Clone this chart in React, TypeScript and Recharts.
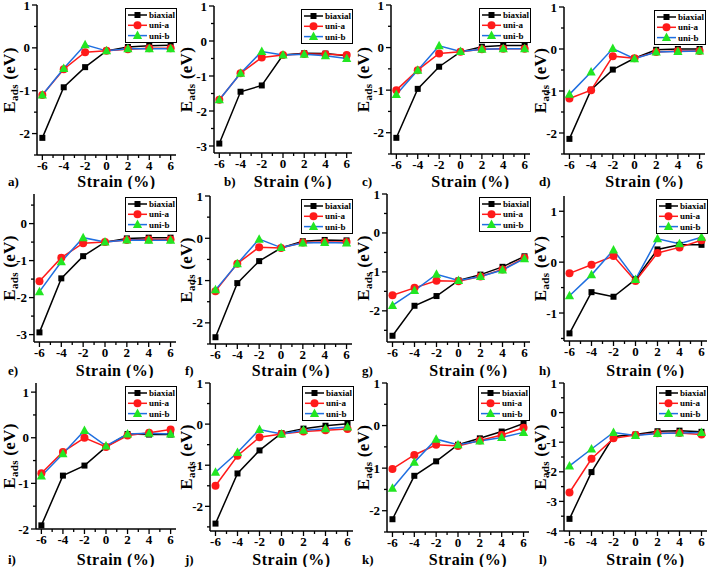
import React from 'react';
import { LineChart, Line, XAxis, YAxis, Legend } from 'recharts';

const strain = [-6, -4, -2, 0, 2, 4, 6];
const strainTicks = [-6, -5, -4, -3, -2, -1, 0, 1, 2, 3, 4, 5, 6];
const seriesNames = ['biaxial', 'uni-a', 'uni-b'];

// values, in order -6 .. 6 % strain
const aBiaxial = [-2.1, -0.92, -0.45, -0.07, 0.02, 0.05, 0.06];
const aUniA = [-1.1, -0.5, -0.1, -0.07, -0.03, -0.01, -0.01];
const aUniB = [-1.1, -0.48, 0.07, -0.07, -0.02, -0.02, -0.02];

const bBiaxial = [-2.93, -1.45, -1.27, -0.4, -0.35, -0.36, -0.42];
const bUniA = [-1.68, -0.92, -0.47, -0.4, -0.37, -0.38, -0.4];
const bUniB = [-1.68, -0.92, -0.3, -0.4, -0.38, -0.42, -0.5];

const cBiaxial = [-2.12, -0.97, -0.45, -0.1, 0.02, 0.05, 0.05];
const cUniA = [-1.0, -0.53, -0.14, -0.1, -0.04, -0.03, -0.03];
const cUniB = [-1.1, -0.53, 0.04, -0.09, -0.04, -0.03, -0.03];

const dBiaxial = [-2.14, -0.97, -0.49, -0.22, -0.02, 0.0, 0.0];
const dUniA = [-1.18, -0.98, -0.17, -0.22, -0.07, -0.05, -0.05];
const dUniB = [-1.08, -0.55, 0.01, -0.23, -0.07, -0.06, -0.05];

const eBiaxial = [-2.94, -1.48, -0.88, -0.5, -0.4, -0.38, -0.38];
const eUniA = [-1.56, -0.92, -0.53, -0.5, -0.44, -0.43, -0.43];
const eUniB = [-1.84, -1.03, -0.38, -0.5, -0.44, -0.45, -0.45];

const fBiaxial = [-2.34, -1.06, -0.54, -0.23, -0.07, -0.04, -0.05];
const fUniA = [-1.25, -0.6, -0.21, -0.23, -0.1, -0.09, -0.09];
const fUniB = [-1.22, -0.6, -0.02, -0.22, -0.11, -0.1, -0.11];

const gBiaxial = [-2.64, -1.87, -1.62, -1.22, -1.07, -0.87, -0.6];
const gUniA = [-1.6, -1.41, -1.23, -1.24, -1.12, -0.94, -0.64];
const gUniB = [-1.86, -1.48, -1.06, -1.22, -1.12, -0.95, -0.66];

const hBiaxial = [-1.4, -0.59, -0.68, -0.34, 0.25, 0.34, 0.34];
const hUniA = [-0.22, -0.05, 0.12, -0.37, 0.18, 0.29, 0.43];
const hUniB = [-0.66, -0.25, 0.24, -0.34, 0.46, 0.36, 0.49];

const iBiaxial = [-1.92, -0.83, -0.61, -0.2, 0.08, 0.07, 0.07];
const iUniA = [-0.78, -0.31, 0.0, -0.2, 0.05, 0.11, 0.18];
const iUniB = [-0.84, -0.35, 0.16, -0.18, 0.08, 0.1, 0.08];

const jBiaxial = [-2.42, -1.2, -0.64, -0.22, -0.11, -0.04, 0.01];
const jUniA = [-1.5, -0.77, -0.32, -0.24, -0.18, -0.15, -0.12];
const jUniB = [-1.17, -0.69, -0.13, -0.24, -0.15, -0.11, -0.07];

const kBiaxial = [-2.2, -1.18, -0.84, -0.45, -0.3, -0.14, 0.05];
const kUniA = [-1.02, -0.69, -0.45, -0.48, -0.35, -0.22, -0.05];
const kUniB = [-1.47, -0.86, -0.32, -0.45, -0.36, -0.28, -0.16];

const lBiaxial = [-3.59, -2.01, -0.81, -0.74, -0.63, -0.61, -0.65];
const lUniA = [-2.7, -1.56, -0.87, -0.76, -0.7, -0.69, -0.74];
const lUniB = [-1.8, -1.23, -0.67, -0.77, -0.71, -0.69, -0.67];

const PW = 177;
const PH = 189;
const PAD = 6; // extra room above each panel so top tick labels are not clipped
const FONT = '"Liberation Serif", "Times New Roman", serif';

type PanelDef = {
  tag: string;
  col: number;
  row: number;
  series: number[][];
  y: [number, number];
  l: number;
  t: number;
  r: number;
  b: number;
};

const panels: PanelDef[] = [
  { tag: 'a)', col: 0, row: 0, series: [aBiaxial, aUniA, aUniB], y: [-2.5, 1], l: 37, t: 5, r: 176, b: 155 },
  { tag: 'b)', col: 1, row: 0, series: [bBiaxial, bUniA, bUniB], y: [-3.2, 1], l: 37, t: 6, r: 175, b: 153 },
  { tag: 'c)', col: 2, row: 0, series: [cBiaxial, cUniA, cUniB], y: [-2.5, 1], l: 37, t: 5, r: 176, b: 154 },
  { tag: 'd)', col: 3, row: 0, series: [dBiaxial, dUniA, dUniB], y: [-2.5, 1], l: 33, t: 7, r: 174, b: 154 },
  { tag: 'e)', col: 0, row: 1, series: [eBiaxial, eUniA, eUniB], y: [-3.2, 0.8], l: 34, t: 5, r: 176, b: 153 },
  { tag: 'f)', col: 1, row: 1, series: [fBiaxial, fUniA, fUniB], y: [-2.5, 1], l: 33, t: 7, r: 175, b: 155 },
  { tag: 'g)', col: 2, row: 1, series: [gBiaxial, gUniA, gUniB], y: [-2.8, 1], l: 33, t: 5, r: 176, b: 153 },
  { tag: 'h)', col: 3, row: 1, series: [hBiaxial, hUniA, hUniB], y: [-1.55, 1.3], l: 33, t: 7, r: 176, b: 152 },
  { tag: 'i)', col: 0, row: 2, series: [iBiaxial, iUniA, iUniB], y: [-2, 1.2], l: 36, t: 5, r: 176, b: 151 },
  { tag: 'j)', col: 1, row: 2, series: [jBiaxial, jUniA, jUniB], y: [-2.6, 1], l: 33, t: 5, r: 176, b: 153 },
  { tag: 'k)', col: 2, row: 2, series: [kBiaxial, kUniA, kUniB], y: [-2.5, 1], l: 33, t: 5, r: 175, b: 154 },
  { tag: 'l)', col: 3, row: 2, series: [lBiaxial, lUniA, lUniB], y: [-4, 1], l: 33, t: 5, r: 176, b: 153 },
];

const BLACK = '#000000';
const RED = '#ff1a1a';
const BLUE = '#1f6fe0';
const GREEN = '#22e622';

const halfTicks = (lo: number, hi: number) => {
  const out: number[] = [];
  for (let v = Math.ceil(lo * 2) / 2; v <= hi + 1e-9; v += 0.5) out.push(Math.round(v * 10) / 10);
  return out;
};

const XTick = (props: any) => {
  const { x, y, payload } = props;
  const v = payload.value;
  const major = v % 2 === 0;
  return (
    <g>
      <line x1={x} x2={x} y1={y} y2={y + (major ? 5 : 3)} stroke="#000" strokeWidth={1.3} />
      {major && (
        <text x={x} y={y + 15} textAnchor="middle" fontFamily={FONT} fontWeight="bold" fontSize={13} fill="#000">
          {v}
        </text>
      )}
    </g>
  );
};

const YTick = (props: any) => {
  const { x, y, payload } = props;
  const v = payload.value;
  const major = Number.isInteger(v);
  return (
    <g>
      <line x1={x} x2={x - (major ? 5 : 3)} y1={y} y2={y} stroke="#000" strokeWidth={1.3} />
      {major && (
        <text x={x - 7} y={y + 4.5} textAnchor="end" fontFamily={FONT} fontWeight="bold" fontSize={13} fill="#000">
          {v}
        </text>
      )}
    </g>
  );
};

const squareDot = (props: any) => {
  const { cx, cy, index } = props;
  return <rect key={`s${index}`} x={cx - 3} y={cy - 3} width={6} height={6} fill={BLACK} />;
};
const circleDot = (props: any) => {
  const { cx, cy, index } = props;
  return <circle key={`c${index}`} cx={cx} cy={cy} r={4} fill={RED} />;
};
const triangleDot = (props: any) => {
  const { cx, cy, index } = props;
  return (
    <polygon
      key={`t${index}`}
      points={`${cx},${cy - 5} ${cx - 4.6},${cy + 3.5} ${cx + 4.6},${cy + 3.5}`}
      fill={GREEN}
    />
  );
};

const LegendBox = () => {
  const colors = [BLACK, RED, BLUE];
  return (
    <svg width={52} height={35} style={{ display: 'block' }}>
      <rect x={0.5} y={0.5} width={51} height={34} fill="#fff" stroke="#000" strokeWidth={1} />
      {seriesNames.map((name, i) => {
        const cy = 7 + i * 10.3;
        return (
          <g key={name}>
            <line x1={3} x2={22} y1={cy} y2={cy} stroke={colors[i]} strokeWidth={1.5} />
            {i === 0 && <rect x={9.5} y={cy - 3} width={6} height={6} fill={BLACK} />}
            {i === 1 && <circle cx={12.5} cy={cy} r={4} fill={RED} />}
            {i === 2 && (
              <polygon points={`12.5,${cy - 5} 7.9,${cy + 3.5} 17.1,${cy + 3.5}`} fill={GREEN} />
            )}
            <text x={24} y={cy + 3} fontFamily={FONT} fontWeight="bold" fontSize={9} fill="#000">
              {name}
            </text>
          </g>
        );
      })}
    </svg>
  );
};

function Panel({ p }: { p: PanelDef }) {
  const rows = strain.map((s, i) => ({
    s,
    biaxial: p.series[0][i],
    uniA: p.series[1][i],
    uniB: p.series[2][i],
  }));
  const yTicks = halfTicks(p.y[0], p.y[1]);
  const top = p.t + PAD;
  const bottom = p.b + PAD;
  const midY = (top + bottom) / 2;
  const H = PH + PAD;

  return (
    <div style={{ position: 'absolute', left: p.col * PW, top: p.row * PH - PAD, width: PW, height: H }}>
      <LineChart
        width={PW}
        height={H}
        data={rows}
        margin={{ left: p.l - 1, top, right: PW - p.r, bottom: H - bottom - 1 }}
      >
        <XAxis
          dataKey="s"
          type="number"
          domain={[-6.5, 6.5]}
          ticks={strainTicks}
          interval={0}
          height={1}
          tickSize={0}
          tickMargin={0}
          tick={<XTick />}
          axisLine={{ stroke: '#000', strokeWidth: 1.5 }}
          allowDataOverflow
          label={() => (
            <g>
              <text
                x={(p.l + p.r) / 2 + 10}
                y={187 + PAD}
                textAnchor="middle"
                fontFamily={FONT}
                fontWeight="bold"
                fontSize={16}
                letterSpacing={0.5}
                fill="#000"
              >
                Strain (%)
              </text>
              <text x={p.tag === 'b)' ? 47 : 8} y={186 + PAD} fontFamily={FONT} fontWeight="bold" fontSize={13} fill="#000">
                {p.tag}
              </text>
            </g>
          )}
        />
        <YAxis
          type="number"
          domain={p.y}
          ticks={yTicks}
          interval={0}
          width={1}
          tickSize={0}
          tickMargin={0}
          tick={<YTick />}
          axisLine={{ stroke: '#000', strokeWidth: 1.5 }}
          allowDataOverflow
          label={() => (
            <text
              x={15}
              y={midY}
              transform={`rotate(-90, 15, ${midY})`}
              textAnchor="middle"
              fontFamily={FONT}
              fontWeight="bold"
              fontSize={17}
              letterSpacing={0.3}
              fill="#000"
            >
              E
              <tspan fontSize={11} dy={3}>
                ads
              </tspan>
              <tspan dy={-3}> (eV)</tspan>
            </text>
          )}
        />
        <Line dataKey="biaxial" name="biaxial" stroke={BLACK} strokeWidth={1.5} dot={squareDot} isAnimationActive={false} />
        <Line dataKey="uniA" name="uni-a" stroke={RED} strokeWidth={1.5} dot={circleDot} isAnimationActive={false} />
        <Line dataKey="uniB" name="uni-b" stroke={BLUE} strokeWidth={1.5} dot={triangleDot} isAnimationActive={false} />
        <Legend
          layout="vertical"
          align="center"
          verticalAlign="middle"
          content={() => <LegendBox />}
          wrapperStyle={{ left: p.r - 51, top: top + 3, width: 52, height: 35 }}
        />
      </LineChart>
    </div>
  );
}

export default function App() {
  return (
    <div style={{ position: 'absolute', left: 0, top: 0, width: 709, height: 567, background: '#fff', overflow: 'hidden' }}>
      {panels.map((p) => (
        <Panel key={p.tag} p={p} />
      ))}
    </div>
  );
}
